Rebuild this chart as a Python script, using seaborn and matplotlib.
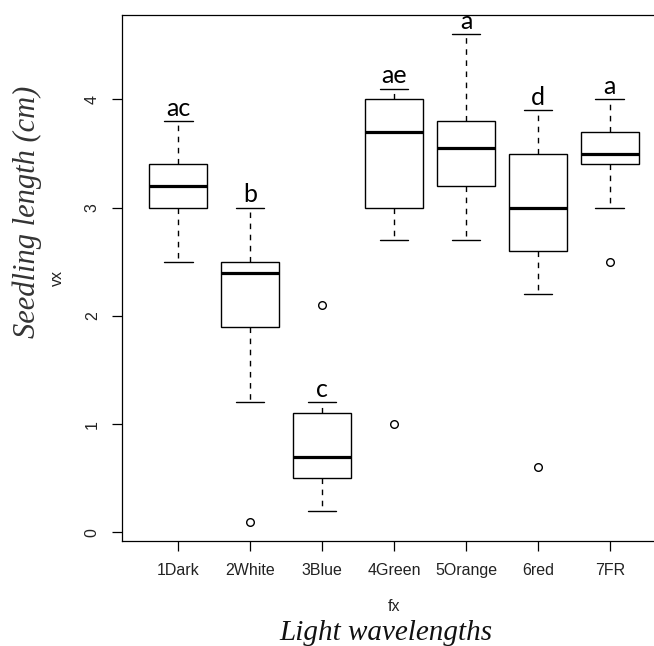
import pandas as pd
import seaborn as sns
import matplotlib.pyplot as plt
import numpy as np

# Seedling length per light treatment
groups = ["1Dark", "2White", "3Blue", "4Green", "5Orange", "6red", "7FR"]
dark = [2.5, 2.8, 3.0, 3.1, 3.2, 3.3, 3.4, 3.6, 3.8]
white = [0.1, 1.2, 1.9, 2.2, 2.4, 2.45, 2.5, 2.8, 3.0]
blue = [0.2, 0.4, 0.5, 0.6, 0.7, 0.9, 1.1, 1.2, 2.1]
green = [1.0, 2.7, 3.0, 3.3, 3.7, 3.9, 4.0, 4.05, 4.1]
orange = [2.7, 3.0, 3.2, 3.4, 3.55, 3.7, 3.8, 4.2, 4.6]
red = [0.6, 2.2, 2.6, 2.8, 3.0, 3.2, 3.5, 3.7, 3.9]
far_red = [2.5, 3.0, 3.4, 3.45, 3.5, 3.6, 3.7, 3.9, 4.0]
letters = ["ac", "b", "c", "ae", "a", "d", "a"]
ytick_values = [0, 1, 2, 3, 4]

values = [dark, white, blue, green, orange, red, far_red]
df = pd.DataFrame({
    "fx": np.repeat(groups, [len(v) for v in values]),
    "vx": np.concatenate(values),
})

sns.set_style("white")
plt.rcParams["font.family"] = ["Liberation Sans", "DejaVu Sans"]

fig = plt.figure(figsize=(6.54, 6.46), dpi=100)
ax = fig.add_axes([122 / 654, 105 / 646, 544 / 654, 526 / 646])

sns.boxplot(data=df, x="fx", y="vx", order=groups, color="white", linecolor="black",
            linewidth=1.0, width=0.8, ax=ax,
            whiskerprops=dict(linestyle=(0, (4, 4))),
            medianprops=dict(linewidth=2.3),
            flierprops=dict(marker="o", markersize=5.5, markerfacecolor="none",
                            markeredgecolor="black", markeredgewidth=1.0))

# significance letters above the upper whisker
for i, (v, lab) in enumerate(zip(values, letters)):
    q1, q3 = np.percentile(v, [25, 75])
    top = max(x for x in v if x <= q3 + 1.5 * (q3 - q1))
    ax.text(i, top + 0.05, lab, ha="center", va="baseline", fontsize=18,
            family=["Lato", "DejaVu Sans"], color="black")

ax.set_xlim(-0.78, 6.78)
ax.set_ylim(-0.08, 4.78)
ax.set_yticks(ytick_values)
ax.set_yticklabels([str(t) for t in ytick_values], rotation=90, va="center")

for s in ax.spines.values():
    s.set_color("black")
    s.set_linewidth(0.9)
ax.spines["right"].set_visible(False)  # cut off in the original
ax.tick_params(axis="both", length=7, width=0.9, color="black", labelsize=11.5,
               labelcolor="#222222", pad=9, left=True, bottom=True)

ax.set_xlabel("fx", fontsize=11.5, color="#222222", labelpad=15)
ax.set_ylabel("vx", fontsize=11.5, color="#222222", labelpad=14)

# big italic titles
fig.text(386 / 654, 1 - 640 / 646, "Light wavelengths", ha="center", va="baseline",
         fontsize=21, style="italic", family="Liberation Serif", color="#111111")
fig.text(27 / 654, 1 - 212 / 646, "Seedling length (cm)", ha="center", va="center",
         rotation=90, fontsize=22, style="italic", family="Liberation Serif",
         color="#333333")

fig.savefig("out.png", dpi=100)
